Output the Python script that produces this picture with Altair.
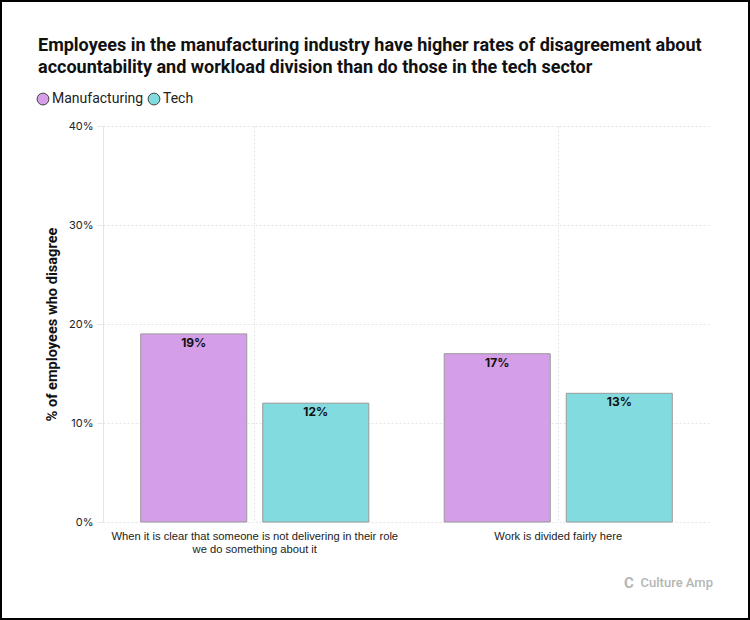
import altair as alt
import pandas as pd

categories = [
    "When it is clear that someone is not delivering in their role|we do something about it",
    "Work is divided fairly here",
]
series = ["Manufacturing", "Tech"]
manufacturing = [0.19, 0.17]
tech = [0.12, 0.13]
colors = ["#D49EE8", "#82DBDF"]
title_lines = [
    "Employees in the manufacturing industry have higher rates of disagreement about",
    "accountability and workload division than do those in the tech sector",
]

rows = []
for i, c in enumerate(categories):
    rows.append({"question": c, "sector": series[0], "value": manufacturing[i]})
    rows.append({"question": c, "sector": series[1], "value": tech[i]})
df = pd.DataFrame(rows)

W, H = 607, 396
FONT = "Inter"

x = alt.X(
    "question:N",
    sort=categories,
    title=None,
    scale=alt.Scale(paddingInner=0, paddingOuter=0),
    axis=alt.Axis(
        labelExpr="split(datum.label, '|')",
        labelAngle=0,
        labelFontSize=11.2,
        labelColor="#222",
        labelFont="Liberation Sans",
        labelPadding=8,
        labelLimit=600,
        ticks=False,
        domain=False,
        grid=True,
        bandPosition=0.5,
        gridDash=[2, 2],
        gridColor="#e4e4e4",
        labelLineHeight=13,
    ),
)
xo = alt.XOffset("sector:N", sort=series, scale=alt.Scale(paddingInner=0.131, paddingOuter=0.309))
y = alt.Y(
    "value:Q",
    title="% of employees who disagree",
    scale=alt.Scale(domain=[0, 0.4]),
    axis=alt.Axis(
        format=".0%",
        values=[0, 0.1, 0.2, 0.3, 0.4],
        labelFontSize=11,
        labelColor="#222",
        labelFont=FONT,
        labelPadding=4,
        ticks=True,
        tickSize=6,
        tickColor="#e8e8e8",
        domain=True,
        domainColor="#e4e4e4",
        gridDash=[2, 2],
        gridColor="#e4e4e4",
        titleFont="Roboto",
        titleFontSize=14.6,
        titleFontWeight="bold",
        titleColor="#111",
        titlePadding=9,
    ),
)

bars = alt.Chart(df).mark_bar(stroke="#999999", strokeWidth=1).encode(
    x=x,
    xOffset=xo,
    y=y,
    color=alt.Color(
        "sector:N",
        sort=series,
        scale=alt.Scale(domain=series, range=colors),
        legend=alt.Legend(
            title=None,
            orient="none",
            legendX=-67,
            legendY=-34,
            direction="horizontal",
            symbolType="circle",
            symbolSize=140,
            symbolStrokeColor="#444",
            symbolStrokeWidth=1,
            symbolOpacity=1,
            labelFont="Roboto",
            labelFontSize=14,
            labelColor="#222",
            labelOffset=2,
            columnPadding=2,
        ),
    ),
)

labels = alt.Chart(df).mark_text(
    baseline="top", dy=4, fontWeight="bold", fontSize=12, font=FONT, color="#111"
).encode(
    x=x,
    xOffset=xo,
    y="value:Q",
    text=alt.Text("value:Q", format=".0%"),
)

title_df = pd.DataFrame({"line": title_lines, "i": [0, 1]})
title = alt.Chart(title_df).transform_filter("datum.i == 0").mark_text(
    align="left", baseline="middle", fontSize=18, font="Roboto", fontWeight="bold", color="#111"
).encode(x=alt.value(-65), y=alt.value(-80), text="line:N")
title2 = alt.Chart(title_df).transform_filter("datum.i == 1").mark_text(
    align="left", baseline="middle", fontSize=18, font="Roboto", fontWeight="bold", color="#111"
).encode(x=alt.value(-65), y=alt.value(-58), text="line:N")

logo = alt.Chart(pd.DataFrame({"t": ["Culture Amp"]})).mark_text(
    align="right", baseline="middle", fontSize=13, font="Roboto", fontWeight=500, color="#b5b5b5"
).encode(x=alt.value(610), y=alt.value(457), text="t:N")

logo_c = alt.Chart(pd.DataFrame({"t": ["C"]})).mark_text(
    align="center", baseline="middle", fontSize=15, font="Roboto", fontWeight="bold", color="#b5b5b5"
).encode(x=alt.value(526), y=alt.value(457), text="t:N")

border = alt.Chart(pd.DataFrame({"t": [1]})).mark_rect(
    fill=None, stroke="#000", strokeWidth=2, clip=False
).encode(
    x=alt.value(-102), x2=alt.value(646), y=alt.value(-125), y2=alt.value(493)
)

chart = (
    alt.layer(bars, labels, title, title2, logo, logo_c, border)
    .properties(
        width=W,
        height=H,
        autosize=alt.AutoSizeParams(type="none"),
        padding={"left": 103, "top": 126, "right": 40, "bottom": 98},
        background="white",
    )
    .configure_view(stroke=None)
)

chart.save("out.html", embed_options={"renderer": "svg", "actions": False})
